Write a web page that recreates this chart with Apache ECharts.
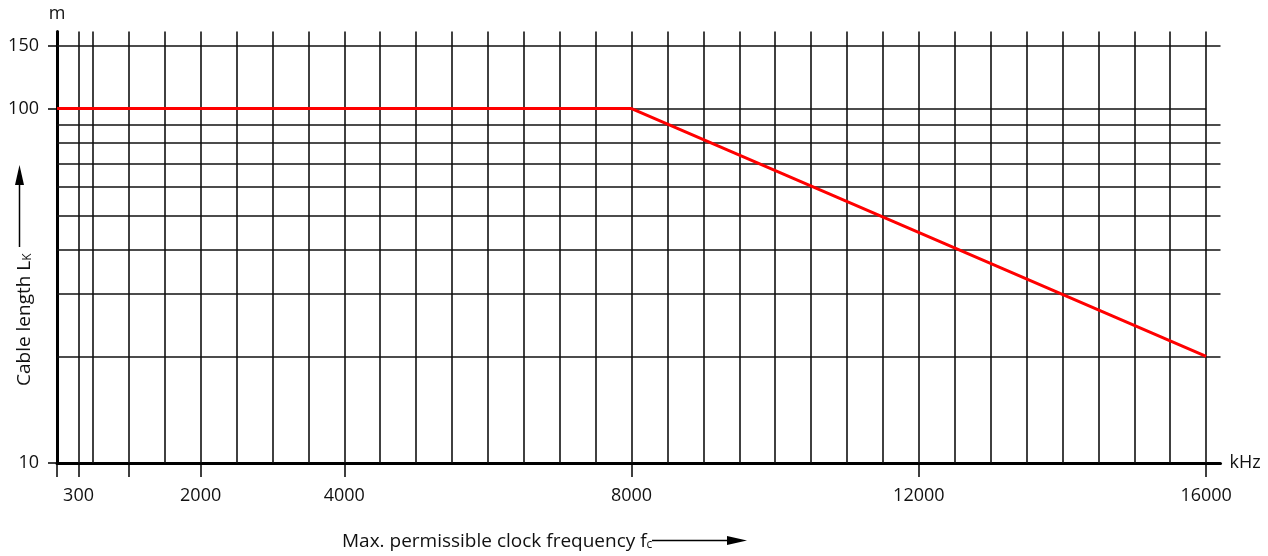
<!DOCTYPE html>
<html>
<head>
<meta charset="utf-8">
<script src="https://cdn.jsdelivr.net/npm/echarts@6/dist/echarts.min.js"></script>
<style>
html,body{margin:0;padding:0;background:#fff;}
#chart{width:1268px;height:556px;}
</style>
</head>
<body>
<div id="chart"></div>
<script>
// ---- data ----
const freqKHz = [0, 8000, 16000];
const cableLengthM = [100, 100, 20];
const xTickLabels = [300, 2000, 4000, 8000, 12000, 16000];
const xTickMarks = [0, 300, 1000, 2000, 4000, 8000, 12000, 16000];
const xGridValues = [300, 500, 1000, 1500, 2000, 2500, 3000, 3500, 4000, 4500, 5000, 5500, 6000, 6500, 7000, 7500, 8000, 8500, 9000, 9500, 10000, 10500, 11000, 11500, 12000, 12500, 13000, 13500, 14000, 14500, 15000, 15500, 16000];
const yGridValues = [20, 30, 40, 50, 60, 70, 80, 90, 150];
const yTickLabels = [10, 100, 150];

const FONT = 'Open Sans';
const TXT = '#111';
const GRID = '#111';

const chart = echarts.init(document.getElementById('chart'));

const gridLineData = [];
xGridValues.forEach(v => gridLineData.push({ xAxis: v }));
yGridValues.forEach(v => gridLineData.push({ yAxis: v }));
gridLineData.push([{ coord: [0, 100] }, { coord: [16000, 100] }]);

chart.setOption({
  animation: false,
  backgroundColor: '#fff',
  grid: { left: 57, right: 47.5, top: 31.5, bottom: 93, containLabel: false },
  xAxis: {
    type: 'value',
    min: 0,
    max: 16200,
    splitLine: { show: false },
    axisLine: { show: true, lineStyle: { color: '#000', width: 3 } },
    axisTick: { show: true, customValues: xTickMarks, length: 14, lineStyle: { color: '#000', width: 1.5 } },
    axisLabel: { customValues: xTickLabels, formatter: v => String(v), fontSize: 18, fontFamily: FONT, color: TXT, margin: 24 },
    name: 'kHz',
    nameLocation: 'end',
    nameGap: 9,
    nameTextStyle: { fontSize: 18, fontFamily: FONT, color: TXT }
  },
  yAxis: {
    type: 'log',
    logBase: 10,
    min: 10,
    max: 165,
    splitLine: { show: false },
    axisLine: { show: true, lineStyle: { color: '#000', width: 3 } },
    axisTick: { show: true, customValues: yTickLabels, length: 9, lineStyle: { color: '#000', width: 1.5 } },
    axisLabel: { customValues: yTickLabels, formatter: v => String(v), fontSize: 18, fontFamily: FONT, color: TXT, margin: 18 },
    name: 'm',
    nameLocation: 'end',
    nameGap: 9,
    nameTextStyle: { fontSize: 18, fontFamily: FONT, color: TXT, align: 'center' }
  },
  series: [
    {
      type: 'line',
      data: [],
      z: 1,
      silent: true,
      markLine: {
        silent: true,
        symbol: 'none',
        animation: false,
        label: { show: false },
        lineStyle: { color: GRID, width: 1.6, type: 'solid' },
        data: gridLineData
      }
    },
    {
      type: 'line',
      z: 5,
      data: freqKHz.map((x, i) => [x, cableLengthM[i]]),
      showSymbol: false,
      symbol: 'none',
      lineStyle: { color: '#ff0000', width: 3 },
      itemStyle: { color: '#ff0000' }
    }
  ],
  graphic: [
    {
      type: 'text',
      x: 8,
      y: 386,
      rotation: Math.PI / 2,
      style: {
        text: '{t|Cable length L}{s|K}',
        fill: TXT,
        rich: {
          t: { fontSize: 19, fontFamily: FONT, lineHeight: 26, verticalAlign: 'bottom', fill: TXT },
          s: { fontSize: 12, fontFamily: FONT, lineHeight: 12, verticalAlign: 'bottom', fill: TXT }
        }
      }
    },
    { type: 'line', shape: { x1: 19.5, y1: 247, x2: 19.5, y2: 182 }, style: { stroke: '#000', lineWidth: 1.5 } },
    { type: 'polygon', shape: { points: [[15, 185], [19.5, 165], [24, 185]] }, style: { fill: '#000' } },
    {
      type: 'text',
      x: 342,
      y: 523,
      style: {
        text: '{t|Max. permissible clock frequency f}{s|c}',
        fill: TXT,
        rich: {
          t: { fontSize: 19, fontFamily: FONT, lineHeight: 28, verticalAlign: 'bottom', fill: TXT },
          s: { fontSize: 12, fontFamily: FONT, lineHeight: 12, verticalAlign: 'bottom', fill: TXT }
        }
      }
    },
    { type: 'line', shape: { x1: 652, y1: 540.5, x2: 730, y2: 540.5 }, style: { stroke: '#000', lineWidth: 1.5 } },
    { type: 'polygon', shape: { points: [[727, 536], [747, 540.5], [727, 545]] }, style: { fill: '#000' } }
  ]
});
</script>
</body>
</html>
